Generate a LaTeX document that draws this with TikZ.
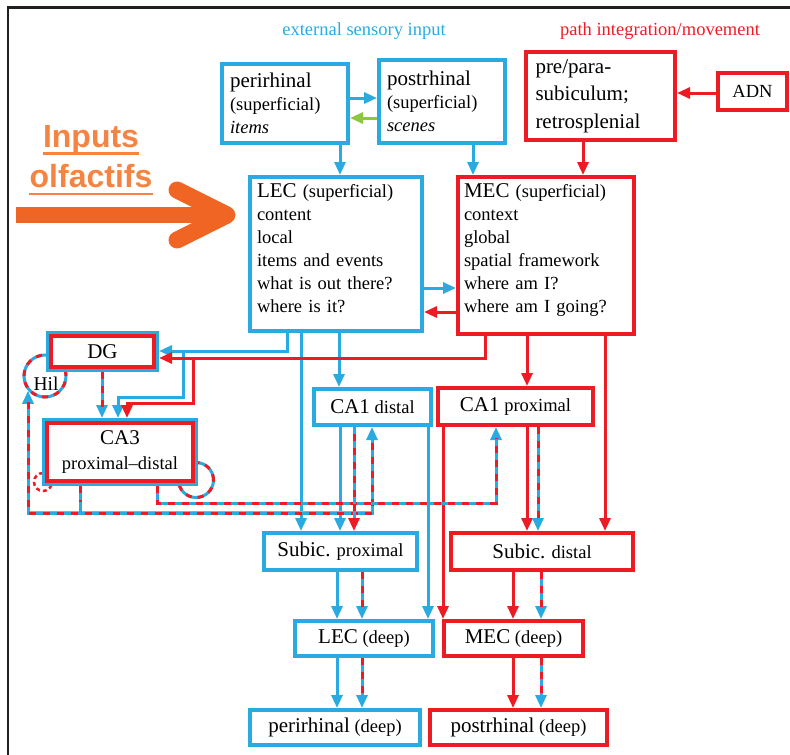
\documentclass[tikz,border=0pt]{standalone}
\usepackage{fontspec}
\setmainfont{Liberation Serif}
\newfontfamily\olffont{Liberation Sans}
\usetikzlibrary{arrows.meta}

\definecolor{bl}{RGB}{41,171,226}
\definecolor{rd}{RGB}{237,28,36}
\definecolor{gn}{RGB}{141,198,63}
\definecolor{org}{RGB}{240,101,35}
\definecolor{orgtxt}{RGB}{245,132,66}
\definecolor{frm}{RGB}{35,31,32}

\newcommand\bigf{\fontsize{21}{25}\selectfont}
\newcommand\dpth[1]{\rule[-#1]{0pt}{0pt}}

\tikzset{
  box/.style={draw, line width=4pt, fill=white, inner xsep=7pt, inner ysep=3pt},
  bbox/.style={box, draw=bl},
  rbox/.style={box, draw=rd},
  dbox/.style={box, draw=rd, outer sep=5pt, preaction={draw=bl, line width=10pt}},
  lbox/.style={align=left, text width=#1},
  ln/.style={line width=3pt},
  barr/.style={ln, draw=bl, ->},
  rarr/.style={ln, draw=rd, ->},
  garr/.style={ln, draw=gn, ->},
  mix/.style={ln, draw=bl, postaction={draw=rd, -, dash pattern=on 7pt off 7pt, shorten >=11pt, shorten <=#1}},
  mix/.default=0pt,
  rmix/.style={ln, draw=rd, postaction={draw=bl, -, dash pattern=on 7pt off 7pt, shorten >=11pt}},
  ring/.style={circle, draw=bl, line width=3pt, inner sep=0pt, postaction={draw=rd, dash pattern=on 6pt off 6pt}},
  olftxt/.style={text=orgtxt, inner sep=0pt, font=\olffont\bfseries\fontsize{32}{40}\selectfont},
  uline/.style={orgtxt, line width=2.6pt},
}

\begin{document}
\begin{tikzpicture}[x=1pt, y=-1pt, font=\fontsize{18.5}{23}\selectfont, >={Triangle[length=13pt,width=11pt]}]
\useasboundingbox (0,0) rectangle (790,755);
% frame
\draw[frm, line width=2.5pt] (8,756) -- (8,7.5) -- (791,7.5);
% headings
\node[text=bl] (ext) at (364,31) {external sensory input};
\node[text=rd] (pim) at (660,31) {path integration/movement};
% olfactory input
\node[olftxt, anchor=base] (inp) at (91,147) {Inputs};
\node[olftxt, anchor=base] (olf) at (91,187) {olfactifs};
\draw[uline] ([yshift=-6.5pt]inp.base west) -- ([yshift=-6.5pt]inp.base east);
\draw[uline] ([yshift=-7pt]olf.base west) -- ([yshift=-7pt]olf.base east);
\draw[org, line width=16pt] (16,215) -- (218,215);
\draw[org, line width=17pt, line cap=round, line join=round] (177,190) -- (227,215) -- (177,240);

% cortex
\node[bbox, lbox=110pt, inner xsep=8pt, minimum width=126pt, minimum height=79pt] (peri) at (285,103.5) {{\bigf perirhinal}\\(superficial)\\\textit{items}};
\node[bbox, lbox=110pt, inner xsep=8pt, minimum width=126pt, minimum height=83pt] (post) at (442,101.5) {{\bigf postrhinal}\\(superficial)\\\textit{scenes}};
\node[rbox, lbox=130pt, inner xsep=9pt, minimum width=149pt, minimum height=88pt, font=\fontsize{21}{27.5}\selectfont] (pre) at (600.5,96) {pre/para-\\subiculum;\\retrosplenial};
\node[rbox, minimum width=69pt, minimum height=37pt] (adn) at (752.5,91.5) {ADN};
\node[bbox, lbox=158pt, minimum width=172pt, minimum height=154pt] (lec) at (336,254) {{\bigf LEC} (superficial)\\content\\local\\items and events\\what is out there?\\where is it?\dpth{12pt}};
\node[rbox, lbox=164pt, inner xsep=6pt, minimum width=176pt, minimum height=157pt] (mec) at (546,255.5) {{\bigf MEC} (superficial)\\context\\global\\spatial framework\\where am I?\\where am I going?\dpth{14pt}};

% hippocampus
\node[ring, minimum size=42pt] (hil) at (45,376) {};
\node[ring, minimum size=35pt] (rec) at (196,480) {};
\node[circle, draw=rd, line width=2.5pt, dash pattern=on 4pt off 3pt, minimum size=18pt, inner sep=0pt] (ass) at (43,482) {};
\node[dbox, minimum width=103pt, minimum height=31pt] (dg) at (102.5,351.5) {\bigf DG};
\node[dbox, align=center, minimum width=146pt, minimum height=58pt] (ca3) at (120,452) {{\bigf CA3}\\[2pt]proximal--distal};
\node (hiltxt) at (46,384) {\fontsize{19.5}{23}\selectfont Hil};
\node[bbox, minimum width=117pt, minimum height=36pt] (ca1d) at (372.5,407) {{\bigf CA1} distal};
\node[rbox, minimum width=155pt, minimum height=37pt] (ca1p) at (515.5,406.5) {{\bigf CA1} proximal};
\node[bbox, minimum width=153pt, minimum height=37pt] (subp) at (340.5,551.5) {{\bigf Subic.} proximal};
\node[rbox, minimum width=182pt, minimum height=37pt] (subd) at (542,551.5) {{\bigf Subic.} distal};
\node[bbox, minimum width=138pt, minimum height=35pt] (lecd) at (364,638.5) {{\bigf LEC} (deep)};
\node[rbox, minimum width=139pt, minimum height=35pt] (mecd) at (513.5,638.5) {{\bigf MEC} (deep)};
\node[bbox, minimum width=170pt, minimum height=35pt] (perid) at (335,727.5) {{\bigf perirhinal} (deep)};
\node[rbox, minimum width=177pt, minimum height=35pt] (postd) at (518.5,727.5) {{\bigf postrhinal} (deep)};

% top connections
\draw[barr] (peri.east |- 0,98) -- (post.west |- 0,98);
\draw[garr] (post.west |- 0,118) -- (peri.east |- 0,118);
\draw[rarr] (adn.west |- 0,93) -- (pre.east |- 0,93);
\draw[barr] (peri.south -| 340,0) -- (lec.north -| 340,0);
\draw[barr] (post.south -| 473,0) -- (mec.north -| 473,0);
\draw[rarr] (pre.south -| 583,0) -- (mec.north -| 583,0);
\draw[barr] (lec.east |- 0,288) -- (mec.west |- 0,288);
\draw[rarr] (mec.west |- 0,312) -- (lec.east |- 0,312);

% blue pathway
\coordinate (bj) at (183,351);
\draw[barr] (lec.south -| 287,0) |- (dg.east |- 0,351);
\draw[barr] (bj) |- (118,397) -- (ca3.north -| 118,0);
\draw[barr] (lec.south -| 301,0) -- (subp.north -| 301,0);
\draw[barr] (lec.south -| 339,0) -- (ca1d.north -| 339,0);
\draw[barr] (ca1d.south -| 340,0) -- (subp.north -| 340,0);
\draw[barr] (ca1d.south -| 428,0) -- (lecd.north -| 428,0);
% red pathway
\coordinate (rj) at (193,358);
\draw[rarr] (mec.south -| 485,0) |- (dg.east |- 0,358);
\draw[rarr] (rj) |- (127,403) -- (ca3.north -| 127,0);
\draw[rarr] (mec.south -| 527,0) -- (ca1p.north -| 527,0);
\draw[rarr] (mec.south -| 605,0) -- (subd.north -| 605,0);
\draw[rarr] (ca1p.south -| 443,0) -- (mecd.north -| 443,0);
\draw[rarr] (ca1p.south -| 527,0) -- (subd.north -| 527,0);

% mixed pathways
\draw[mix,->] (dg.south -| 102,0) -- (ca3.north -| 102,0);
\draw[gn, line width=4.2pt] (28,513) -- (372,513);
\draw[mix] (ca3.south -| 80,0) -- (80,513);
\draw[mix=11pt, <->] (hil.221 -| 28,513) -- (28,513) -- (372,513) -- (ca1d.south -| 372,0);
\draw[mix,->] (ca3.south -| 157,0) -- (157,503) -- (496,503) -- (ca1p.south -| 496,0);
\draw[rmix,->] (ca1d.south -| 354,0) -- (subp.north -| 354,0);
\draw[mix,->] (ca1p.south -| 538,0) -- (subd.north -| 538,0);

% deep layers
\foreach \s/\t in {subp/lecd, lecd/perid}{
  \draw[barr] (\s.south -| 337,0) -- (\t.north -| 337,0);
  \draw[mix,->] (\s.south -| 362,0) -- (\t.north -| 362,0);
}
\foreach \s/\t in {subd/mecd, mecd/postd}{
  \draw[rarr] (\s.south -| 513,0) -- (\t.north -| 513,0);
  \draw[mix,->] (\s.south -| 541,0) -- (\t.north -| 541,0);
}
\end{tikzpicture}
\end{document}
